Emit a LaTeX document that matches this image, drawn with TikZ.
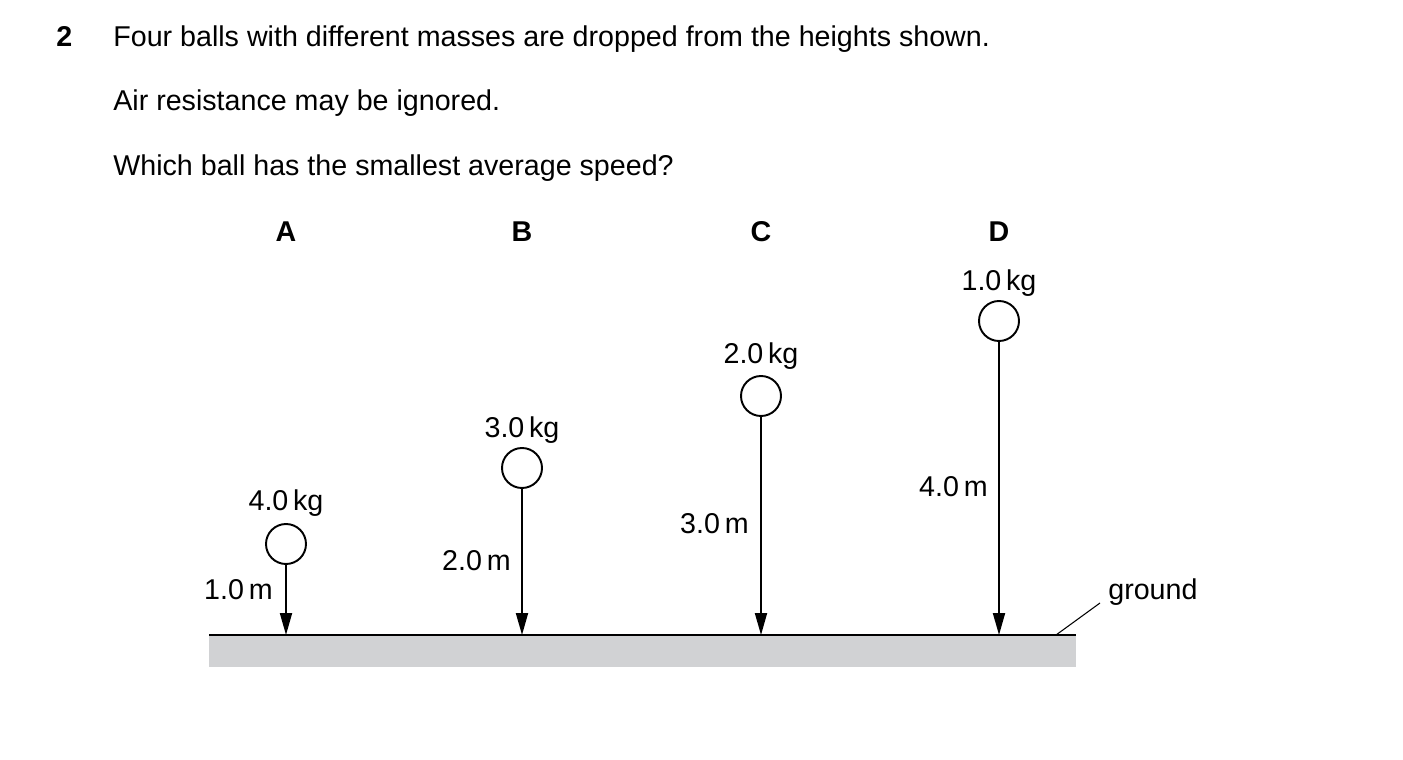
\documentclass[tikz,border=0pt]{standalone}
\usepackage{fontspec}
\setmainfont{Liberation Sans}
\usetikzlibrary{arrows.meta,calc}
\definecolor{groundgray}{HTML}{D1D2D4}
\begin{document}
\begin{tikzpicture}[x=0.02cm,y=-0.02cm,
  txt/.style={inner sep=0pt,anchor=base west,font=\fontsize{16.3}{19}\selectfont},
  lbl/.style={inner sep=0pt,font=\fontsize{16.3}{19}\selectfont},
  ballnode/.style={circle,draw,line width=1.1pt,minimum size=40*0.02cm,inner sep=0pt},
  fall/.style={line width=1.1pt,-{Triangle[length=0.44cm,width=0.24cm]}},
]
\useasboundingbox (0,0) rectangle (1403,760);
% text
\node[txt,font=\fontsize{16.3}{19}\selectfont\bfseries] (num) at (56,47) {2};
\node[txt] (q1) at (113,47) {Four balls with different masses are dropped from the heights shown.};
\node[txt] (q2) at (113,111) {Air resistance may be ignored.};
\node[txt] (q3) at (113,176) {Which ball has the smallest average speed?};
% ground
\fill[groundgray] (209,636) rectangle (1076,667);
\draw[line width=1.5pt] (209,635) -- (1076,635);
% letters
\foreach \n/\x in {A/286,B/522,C/761,D/999}{
  \node[lbl,font=\fontsize{16.3}{19}\selectfont\bfseries] (lab\n) at (\x,232) {\n};
  \coordinate (g\n) at (\x,635);
}
% balls
\node[ballnode] (ballA) at (286,544) {};
\node[ballnode] (ballB) at (522,468) {};
\node[ballnode] (ballC) at (761,396) {};
\node[ballnode] (ballD) at (999,321) {};
\draw[fall] (ballA) -- (gA);
\draw[fall] (ballB) -- (gB);
\draw[fall] (ballC) -- (gC);
\draw[fall] (ballD) -- (gD);
% masses
\node[lbl] (mA) at (286,503) {4.0\,kg};
\node[lbl] (mB) at (522,430) {3.0\,kg};
\node[lbl] (mC) at (761,356) {2.0\,kg};
\node[lbl] (mD) at (999,283) {1.0\,kg};
% heights
\node[lbl,anchor=east] (hA) at (273,590) {1.0\,m};
\node[lbl,anchor=east] (hB) at (511,561) {2.0\,m};
\node[lbl,anchor=east] (hC) at (749,524) {3.0\,m};
\node[lbl,anchor=east] (hD) at (988,487) {4.0\,m};
% ground label
\node[lbl,anchor=west] (gl) at (1108,592) {ground};
\coordinate (gp) at (1056,635);
\draw[line width=0.6pt] (gp) -- ($(gl.west)+(-8,11)$);
\end{tikzpicture}
\end{document}
